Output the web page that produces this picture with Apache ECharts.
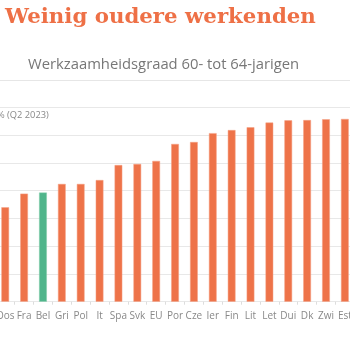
<!DOCTYPE html>
<html><head><meta charset="utf-8">
<script src="https://cdn.jsdelivr.net/npm/echarts@6/dist/echarts.min.js"></script>
<style>html,body{margin:0;padding:0;background:#fff;overflow:hidden}#c{position:absolute;left:-7px;top:0;width:364px;height:350px}</style>
</head><body><div id="c"></div>
<script>
const titleText = "Weinig oudere werkenden";
const subtitleText = "Werkzaamheidsgraad 60- tot 64-jarigen";
const unitText = "% (Q2 2023)";
const categories = ["Oos","Fra","Bel","Gri","Pol","It","Spa","Svk","EU","Por","Cze","Ier","Fin","Lit","Let","Dui","Dk","Zwi","Est"];
const values = [34.0,38.9,39.3,42.4,42.4,43.8,49.2,49.6,50.7,56.8,57.5,60.7,61.8,62.8,64.5,65.3,65.4,65.7,65.8];
const highlight = "Bel";
const yTicks = [0,10,20,30,40,50,60,70];

const off = 7; // div is shifted left by this many px
const orange = '#ee7349', green = '#50b58b';
const chart = echarts.init(document.getElementById('c'));
chart.setOption({
  animation:false,
  title:[
    {text:titleText,left:5+off,top:7,padding:0,textStyle:{fontFamily:'DejaVu Serif',fontWeight:'bold',fontSize:21.3,color:'#ee7046'}},
    {text:subtitleText,left:28+off,top:57,padding:0,textStyle:{fontFamily:'Open Sans',fontWeight:'normal',fontSize:14.8,color:'#777'}},
    {text:unitText,left:-3+off,top:111,padding:0,textStyle:{fontFamily:'Open Sans',fontWeight:'normal',fontSize:9.3,color:'#888'}}
  ],
  graphic:[{type:'line',shape:{x1:0,y1:80.5,x2:364,y2:80.5},style:{stroke:'#e6e6e6',lineWidth:1}}],
  grid:{left:0.7,width:360.6,top:107.3,bottom:48.3,containLabel:false},
  xAxis:{type:'category',data:categories,
    axisLine:{show:false},
    axisTick:{show:true,length:3,lineStyle:{color:'#ddd'}},
    axisLabel:{interval:0,margin:9,fontFamily:'Open Sans',fontSize:10,color:'#888'}},
  yAxis:{type:'value',min:yTicks[0],max:yTicks[yTicks.length-1],interval:10,
    axisLabel:{show:false},axisLine:{show:false},axisTick:{show:false},
    splitLine:{lineStyle:{color:'#e8e8e8'}}},
  series:[{type:'bar',barWidth:7.7,
    data:values.map((v,i)=>({value:v,itemStyle:{color:categories[i]===highlight?green:orange,borderColor:categories[i]===highlight?'#7fcaa9':'#f5a184',borderWidth:0.5}}))}]
});
</script></body></html>
